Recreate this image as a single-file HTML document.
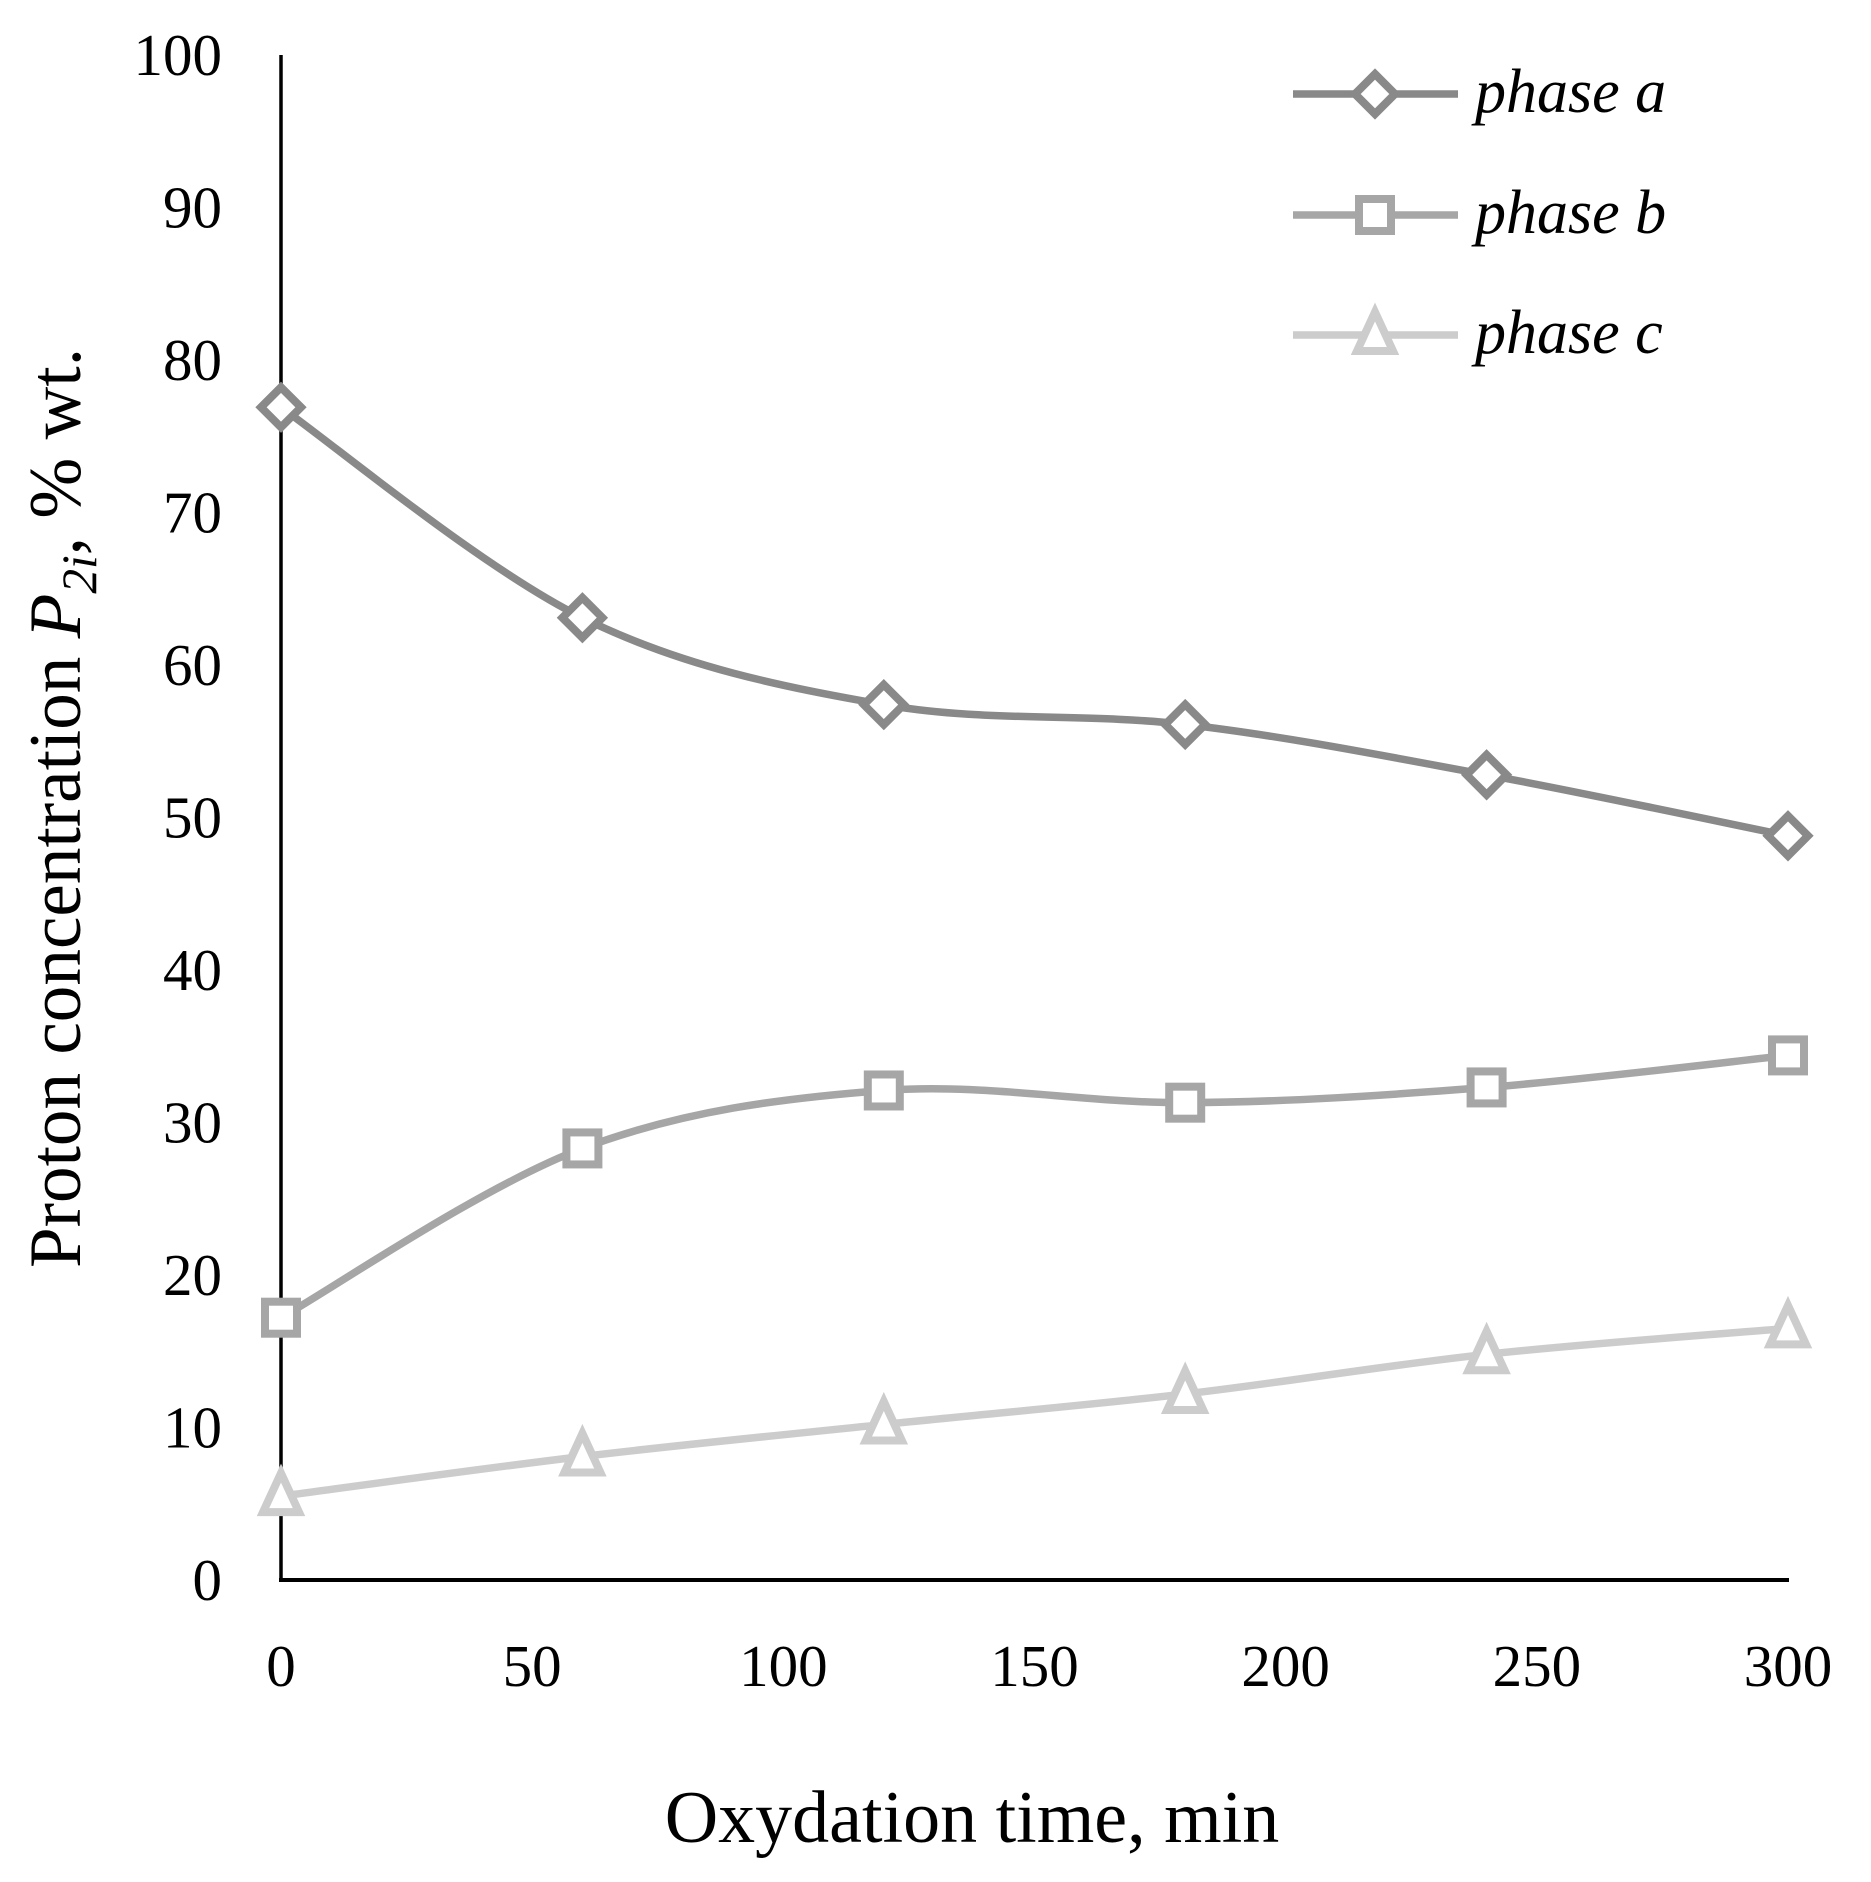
<!DOCTYPE html>
<html><head><meta charset="utf-8"><style>
html,body{margin:0;padding:0;background:#fff;}
svg{display:block;}
text{font-family:"Liberation Serif",serif;fill:#000;}
</style></head><body>
<svg id="s" width="1871" height="1882" viewBox="0 0 1871 1882" xmlns="http://www.w3.org/2000/svg">
<line x1="281" y1="55" x2="281" y2="1580" stroke="#000" stroke-width="3.5"/>
<line x1="279" y1="1580" x2="1789" y2="1580" stroke="#000" stroke-width="4"/>
<g id="yt" font-size="59" text-anchor="end"></g>
<g id="xt" font-size="59" text-anchor="middle"></g>
<g id="series"></g>
<text x="972" y="1842" font-size="74" text-anchor="middle">Oxydation time, min</text>
<text transform="translate(80,808) rotate(-90)" font-size="74" text-anchor="middle" textLength="920" lengthAdjust="spacingAndGlyphs">Proton concentration <tspan font-style="italic">P</tspan><tspan font-style="italic" font-size="50" dy="16">2i</tspan><tspan dy="-16">, % wt.</tspan></text>
<g font-size="62" font-style="italic">
<text x="1475" y="112">phase a</text>
<text x="1475" y="233">phase b</text>
<text x="1475" y="353">phase c</text>
</g>
</svg>
<script>
var NS="http://www.w3.org/2000/svg";
function X(t){return 281+t*(1788-281)/300;}
function Y(v){return 1580-v*15.25;}
function el(p,n,a,txt){var e=document.createElementNS(NS,n);for(var k in a)e.setAttribute(k,a[k]);if(txt!=null)e.textContent=txt;p.appendChild(e);return e;}
var yt=document.getElementById('yt'),xt=document.getElementById('xt'),sr=document.getElementById('series');
for(var v=0;v<=100;v+=10)el(yt,'text',{x:222,y:Y(v)+20},v);
for(var t=0;t<=300;t+=50)el(xt,'text',{x:X(t),y:1686},t);
var xs=[0,60,120,180,240,300];
var S=[{c:'#898989',m:'d',d:[76.9,63.1,57.4,56.1,52.8,48.8],ly:94},
{c:'#a6a6a6',m:'s',d:[17.2,28.3,32.1,31.3,32.3,34.4],ly:215},
{c:'#cccccc',m:'t',d:[5.5,8.1,10.2,12.2,14.8,16.5],ly:335}];
function marker(x,y,m,c){
 var a={fill:'#fff',stroke:c,'stroke-width':8,'stroke-linejoin':'miter'};
 if(m=='d'){a.points=[x,y-20,x+20,y,x,y+20,x-20,y].join(' ');el(sr,'polygon',a);}
 else if(m=='s'){a.x=x-16;a.y=y-16;a.width=32;a.height=32;el(sr,'rect',a);}
 else {a.points=[x,y-23,x+18,y+16,x-18,y+16].join(' ');el(sr,'polygon',a);}
}
S.forEach(function(s){
 var P=xs.map(function(t,i){return [X(t),Y(s.d[i])];});
 var d='M'+P[0][0]+','+P[0][1];
 for(var i=0;i<P.length-1;i++){
  var p0=P[Math.max(i-1,0)],p1=P[i],p2=P[i+1],p3=P[Math.min(i+2,P.length-1)];
  var k=1/6;
  d+=' C'+(p1[0]+(p2[0]-p0[0])*k)+','+(p1[1]+(p2[1]-p0[1])*k)+' '+(p2[0]-(p3[0]-p1[0])*k)+','+(p2[1]-(p3[1]-p1[1])*k)+' '+p2[0]+','+p2[1];
 }
 el(sr,'path',{d:d,fill:'none',stroke:s.c,'stroke-width':7.5});
 P.forEach(function(p){marker(p[0],p[1],s.m,s.c);});
 el(sr,'line',{x1:1293,y1:s.ly,x2:1458,y2:s.ly,stroke:s.c,'stroke-width':7.5});
 marker(1375,s.ly,s.m,s.c);
});
</script>
</body></html>
